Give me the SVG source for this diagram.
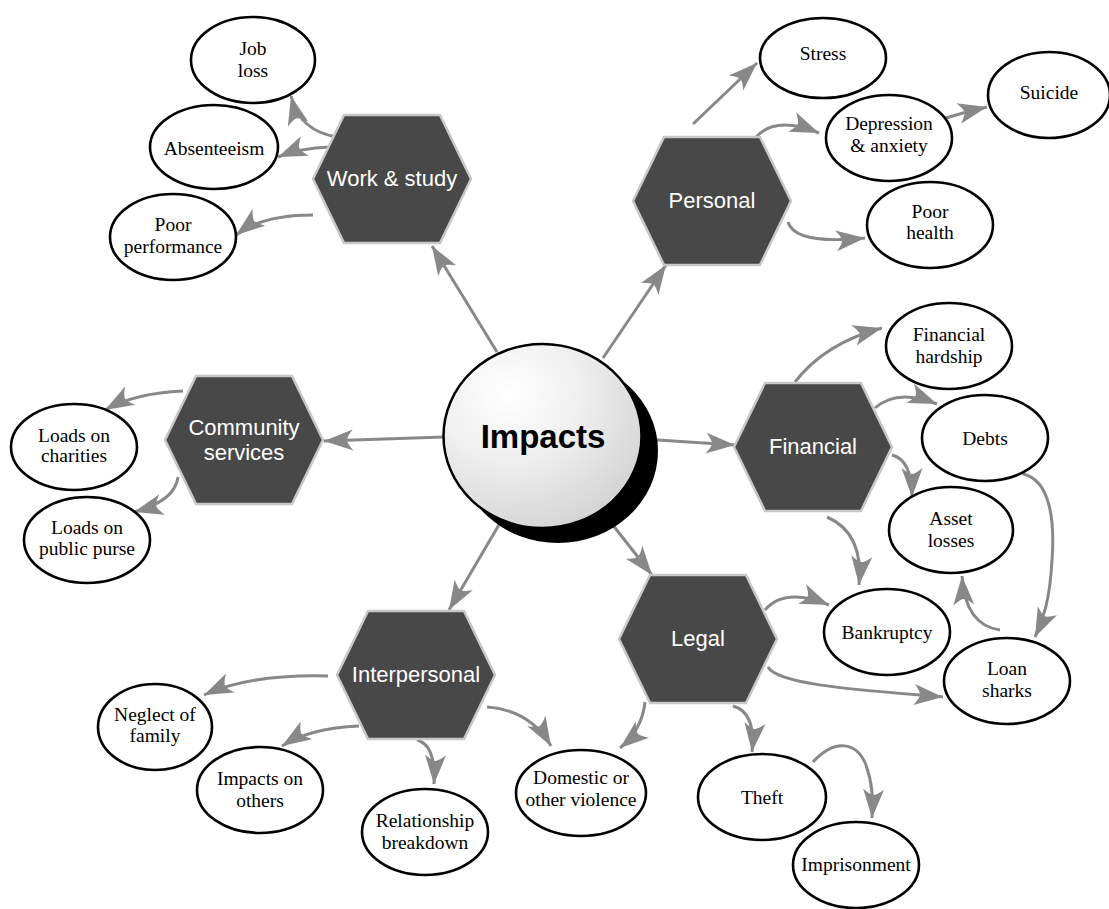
<svg xmlns="http://www.w3.org/2000/svg" width="1109" height="909" viewBox="0 0 1109 909">
<defs>
<radialGradient id="ball" cx="0.33" cy="0.27" r="0.78" fx="0.33" fy="0.27">
<stop offset="0" stop-color="#ffffff"/>
<stop offset="0.45" stop-color="#f0f0f0"/>
<stop offset="1" stop-color="#d4d4d4"/>
</radialGradient>
<marker id="ah" markerWidth="36" markerHeight="26" viewBox="-32 -13 36 26" refX="0" refY="0" orient="auto" markerUnits="userSpaceOnUse">
<path d="M0,0 L-29,-10.5 Q-23,-3 -23,0 Q-23,3 -29,10.5 Z" fill="#888888"/>
</marker>
<polygon id="hexshape" points="-79,0 -48,-64 48,-64 79,0 48,64 -48,64"/>
</defs>
<style>
.hex{fill:#484848;stroke:#c8c8c8;stroke-width:2.5}
.ht{fill:#ffffff;font-family:"Liberation Sans",Arial,sans-serif;font-size:22px;text-anchor:middle}
.el{fill:#ffffff;stroke:#000000;stroke-width:2.6}
.et{fill:#000000;font-family:"Liberation Serif","Times New Roman",serif;font-size:19.5px;text-anchor:middle}
.c{fill:none;stroke:#888888;stroke-width:3;marker-end:url(#ah)}
</style>
<rect width="1109" height="909" fill="#ffffff"/>

<g id="connectors">
<path class="c" d="M497,352 L432,246"/>
<path class="c" d="M603,358 L666,265"/>
<path class="c" d="M444,437 L324,441"/>
<path class="c" d="M642,439 L735,445"/>
<path class="c" d="M605,515 L652,575"/>
<path class="c" d="M500,523 L449,610"/>

<path class="c" d="M338,137 Q300,132 291,96"/>
<path class="c" d="M330,147 Q300,148 278,157"/>
<path class="c" d="M313,215 Q262,215 236,235"/>

<path class="c" d="M693,124 L757,63"/>
<path class="c" d="M755,138 Q775,115 819,133"/>
<path class="c" d="M788,222 Q795,245 865,238"/>
<path class="c" d="M946,118 Q965,112 987,107"/>

<path class="c" d="M795,382 Q825,343 882,328"/>
<path class="c" d="M875,408 Q897,388 937,404"/>
<path class="c" d="M892,455 Q912,460 912,497"/>
<path class="c" d="M827,517 Q864,533 859,585"/>
<path class="c" d="M1023,474 C1050,480 1055,520 1052,560 C1050,600 1043,620 1035,637"/>
<path class="c" d="M1000,630 Q965,625 962,576"/>

<path class="c" d="M765,610 Q785,587 829,605"/>
<path class="c" d="M768,667 C778,685 860,690 943,697"/>
<path class="c" d="M645,702 Q642,730 620,748"/>
<path class="c" d="M733,706 Q756,712 752,752"/>
<path class="c" d="M813,762 C835,738 857,742 866,765 C873,785 873,800 872,818"/>

<path class="c" d="M328,676 Q250,674 204,695"/>
<path class="c" d="M359,726 Q310,728 282,746"/>
<path class="c" d="M417,740 Q436,745 434,784"/>
<path class="c" d="M487,707 Q530,710 551,746"/>

<path class="c" d="M183,391 Q135,393 105,410"/>
<path class="c" d="M178,477 Q175,501 134,512"/>
</g>

<g id="impacts">
<ellipse cx="558" cy="451" rx="100" ry="92" fill="#000000"/>
<ellipse cx="542.5" cy="436" rx="99" ry="92" fill="url(#ball)" stroke="#000000" stroke-width="2.5"/>
<text x="543" y="448" font-family="Liberation Sans,Arial,sans-serif" font-size="33" font-weight="bold" text-anchor="middle" fill="#000000">Impacts</text>
</g>

<g id="work-study"><use href="#hexshape" class="hex" x="392" y="179"/><text class="ht" x="392" y="186">Work &amp; study</text></g>
<g id="personal"><use href="#hexshape" class="hex" x="712" y="201"/><text class="ht" x="712" y="208">Personal</text></g>
<g id="financial"><use href="#hexshape" class="hex" x="813" y="447"/><text class="ht" x="813" y="454">Financial</text></g>
<g id="legal"><use href="#hexshape" class="hex" x="698" y="639"/><text class="ht" x="698" y="646">Legal</text></g>
<g id="interpersonal"><use href="#hexshape" class="hex" x="416" y="675"/><text class="ht" x="416" y="682">Interpersonal</text></g>
<g id="community-services"><use href="#hexshape" class="hex" x="244" y="440"/><text class="ht" x="244" y="435">Community</text><text class="ht" x="244" y="460">services</text></g>

<g id="job-loss"><ellipse class="el" cx="253" cy="60" rx="62" ry="43"/><text class="et" x="253" y="55">Job</text><text class="et" x="253" y="77">loss</text></g>
<g id="absenteeism"><ellipse class="el" cx="214" cy="147" rx="64" ry="42"/><text class="et" x="214" y="155">Absenteeism</text></g>
<g id="poor-performance"><ellipse class="el" cx="173" cy="237" rx="63" ry="43"/><text class="et" x="173" y="231">Poor</text><text class="et" x="173" y="253">performance</text></g>

<g id="stress"><ellipse class="el" cx="823" cy="58" rx="63" ry="40"/><text class="et" x="823" y="60">Stress</text></g>
<g id="depression"><ellipse class="el" cx="889" cy="138" rx="63" ry="43"/><text class="et" x="889" y="130">Depression</text><text class="et" x="889" y="152">&amp; anxiety</text></g>
<g id="suicide"><ellipse class="el" cx="1049" cy="95" rx="61" ry="43"/><text class="et" x="1049" y="99">Suicide</text></g>
<g id="poor-health"><ellipse class="el" cx="930" cy="225" rx="63" ry="43"/><text class="et" x="930" y="218">Poor</text><text class="et" x="930" y="239">health</text></g>

<g id="financial-hardship"><ellipse class="el" cx="949" cy="346" rx="63" ry="43"/><text class="et" x="949" y="341">Financial</text><text class="et" x="949" y="363">hardship</text></g>
<g id="debts"><ellipse class="el" cx="985" cy="438" rx="63" ry="43"/><text class="et" x="985" y="445">Debts</text></g>
<g id="asset-losses"><ellipse class="el" cx="951" cy="530" rx="62" ry="43"/><text class="et" x="951" y="525">Asset</text><text class="et" x="951" y="547">losses</text></g>
<g id="bankruptcy"><ellipse class="el" cx="887" cy="632" rx="63" ry="43"/><text class="et" x="887" y="639">Bankruptcy</text></g>
<g id="loan-sharks"><ellipse class="el" cx="1007" cy="681" rx="63" ry="43"/><text class="et" x="1007" y="675">Loan</text><text class="et" x="1007" y="697">sharks</text></g>
<g id="theft"><ellipse class="el" cx="762" cy="797" rx="64" ry="43"/><text class="et" x="762" y="804">Theft</text></g>
<g id="imprisonment"><ellipse class="el" cx="856" cy="865" rx="63" ry="43"/><text class="et" x="856" y="871">Imprisonment</text></g>

<g id="domestic-violence"><ellipse class="el" cx="581" cy="793" rx="65" ry="43"/><text class="et" x="581" y="784">Domestic or</text><text class="et" x="581" y="806">other violence</text></g>
<g id="relationship-breakdown"><ellipse class="el" cx="425" cy="832" rx="63" ry="43"/><text class="et" x="425" y="827">Relationship</text><text class="et" x="425" y="849">breakdown</text></g>
<g id="impacts-on-others"><ellipse class="el" cx="260" cy="790" rx="63" ry="43"/><text class="et" x="260" y="785">Impacts on</text><text class="et" x="260" y="807">others</text></g>
<g id="neglect-of-family"><ellipse class="el" cx="155" cy="727" rx="57" ry="43"/><text class="et" x="155" y="721">Neglect of</text><text class="et" x="155" y="742">family</text></g>

<g id="loads-on-charities"><ellipse class="el" cx="74" cy="447" rx="63" ry="43"/><text class="et" x="74" y="442">Loads on</text><text class="et" x="74" y="462">charities</text></g>
<g id="loads-on-public-purse"><ellipse class="el" cx="87" cy="540" rx="63" ry="43"/><text class="et" x="87" y="534">Loads on</text><text class="et" x="87" y="555">public purse</text></g>
</svg>
